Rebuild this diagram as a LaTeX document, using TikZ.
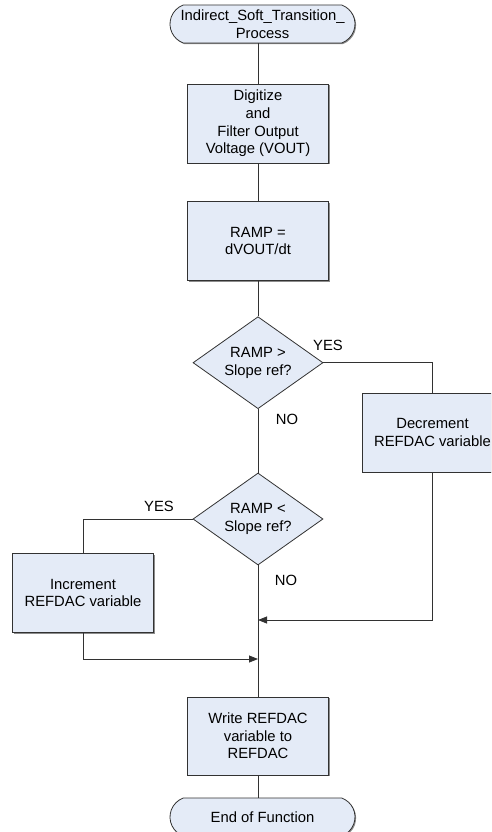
\documentclass[tikz,border=0pt]{standalone}
\usepackage{fontspec}
\setmainfont{Liberation Sans}
\usetikzlibrary{shapes.geometric,shapes.misc,arrows.meta,shadows}

\definecolor{boxfill}{RGB}{228,235,247}
\definecolor{edge}{RGB}{50,50,50}

\tikzset{
  every node/.style={font=\fontsize{14.8}{17.7}\selectfont},
  boxshadow/.style={drop shadow={shadow xshift=1.1pt, shadow yshift=-1.1pt, fill=black!45, opacity=1}},
  procbox/.style={draw=edge, line width=0.8pt, fill=boxfill, boxshadow,
    minimum width=141pt, minimum height=79pt, inner sep=0pt, align=center},
  terminal/.style={draw=edge, line width=0.8pt, fill=boxfill, boxshadow,
    rounded rectangle, rounded rectangle arc length=140,
    minimum width=185pt, minimum height=38pt, inner sep=0pt, align=center},
  decision/.style={draw=edge, line width=0.8pt, fill=boxfill, diamond, aspect=1.4,
    minimum width=130pt, minimum height=92pt, inner sep=0pt, align=center},
  flow/.style={draw=edge, line width=0.8pt},
  flowarrow/.style={flow, -{Triangle[length=9pt,width=7pt]}},
  branch/.style={inner sep=0pt}
}

\begin{document}
\begin{tikzpicture}[x=1pt,y=-1pt]
  \useasboundingbox (0,0) rectangle (491,832);
  \clip (0,0) rectangle (491,832);

  % main column
  \node[terminal] (start) at (262.5,24) {Indirect\_Soft\_Transition\_\\Process};
  \node[procbox]  (digit) at (258,123.5) {Digitize\\and\\Filter Output\\Voltage (VOUT)};
  \node[procbox]  (ramp)  at (258,241) {RAMP =\\dVOUT/dt};
  \node[decision] (gt)    at (258,362.7) {RAMP \textgreater\\Slope ref?};
  \node[decision] (lt)    at (258,519) {RAMP \textless\\Slope ref?};
  \node[procbox, minimum height=78pt] (write) at (258,736) {Write REFDAC\\variable to\\REFDAC};
  \node[terminal] (finish) at (262.5,817) {End of Function};

  % side branches
  \node[procbox] (dec) at (432.5,432.8) {Decrement\\REFDAC variable};
  \node[procbox] (inc) at (83,593) {Increment\\REFDAC variable};

  % merge points on the main column
  \coordinate (mergeA) at (258,620);
  \coordinate (mergeB) at (258,659);

  % branch labels
  \node[branch] (yesA) at (328,345) {YES};
  \node[branch] (noA)  at (287,419) {NO};
  \node[branch] (yesB) at (159,506) {YES};
  \node[branch] (noB)  at (286,580) {NO};

  % connectors
  \draw[flow] (digit.north) -- (digit.north |- start.south);
  \draw[flow] (digit) -- (ramp);
  \draw[flow] (ramp) -- (gt);
  \draw[flow] (gt.south) -- (lt.north);
  \draw[flow] (gt.east) -| (dec.north);
  \draw[flow] (lt.west) -| (inc.north);
  \draw[flow] (lt.south) -- (write.north);
  \draw[flowarrow] (dec.south) |- (mergeA);
  \draw[flowarrow] (inc.south) |- (mergeB);
  \draw[flow] (write.south) -- (write.south |- finish.north);
\end{tikzpicture}
\end{document}
